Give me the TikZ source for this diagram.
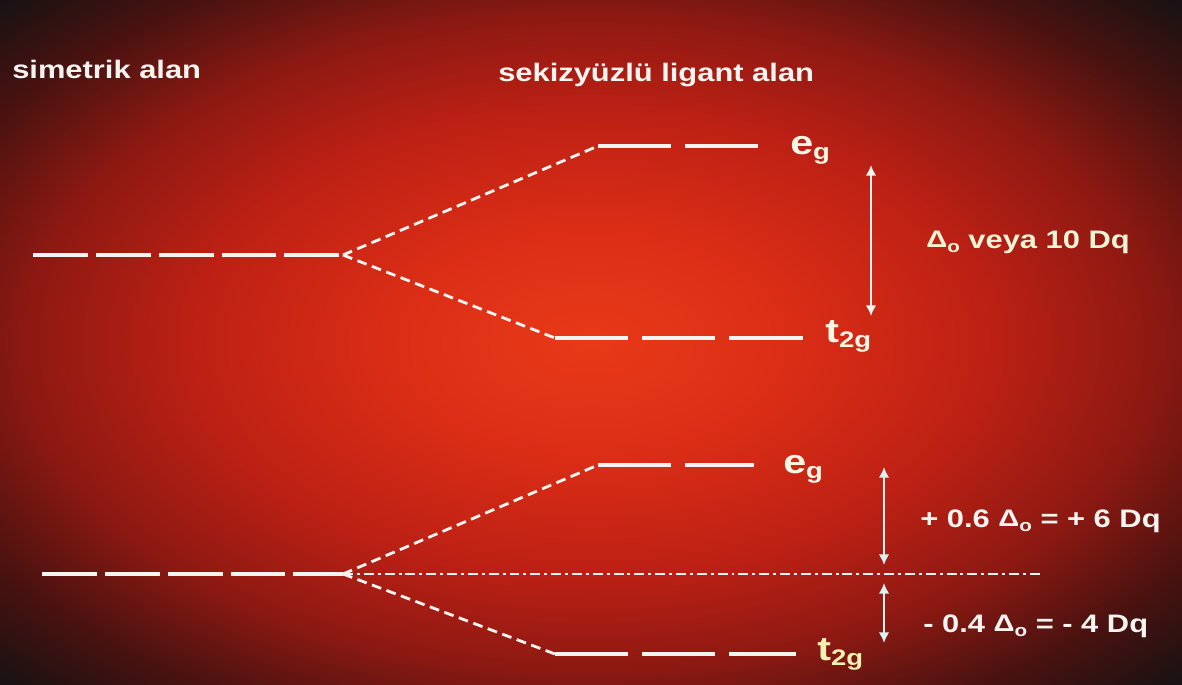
\documentclass[tikz,border=0pt]{standalone}
\usepackage{fontspec}
\usepackage{graphicx}
\setmainfont{Liberation Sans}[FakeStretch=1.22]
\usetikzlibrary{arrows.meta}

\definecolor{bgcore}{RGB}{232,58,24}
\definecolor{bgwarm}{RGB}{220,46,22}
\definecolor{bgred}{RGB}{188,32,20}
\definecolor{bgdeep}{RGB}{140,25,18}
\definecolor{bgdark}{RGB}{72,18,16}
\definecolor{bgedge}{RGB}{26,18,18}
\definecolor{chalk}{RGB}{246,244,240}
\definecolor{termcol}{RGB}{252,246,228}
\definecolor{dqtint}{RGB}{236,244,212}
\definecolor{lowtint}{RGB}{244,240,180}
\definecolor{icecol}{RGB}{218,242,242}

\pgfdeclareradialshading{slideglow}{\pgfpoint{0bp}{0bp}}{%
  color(0bp)=(bgcore); color(8bp)=(bgwarm); color(17bp)=(bgred);
  color(24bp)=(bgdeep); color(30bp)=(bgdark); color(35bp)=(bgedge);
  color(50bp)=(bgedge)}

\tikzset{
  lvlleft/.style={line width=2.2pt, chalk, dash pattern=on 39pt off 5.7pt},
  lvlright/.style={line width=2.2pt, chalk, dash pattern=on 52pt off 10pt},
  split/.style={line width=2pt, chalk, dash pattern=on 7pt off 4pt},
  bary/.style={line width=1.8pt, chalk, dash pattern=on 7.1pt off 2.8pt on 2.1pt off 2.8pt},
  gap/.style={line width=1.8pt, {Latex[length=7.5pt,width=7.5pt]}-{Latex[length=7.5pt,width=7.5pt]}},
  lbl/.style={font=\bfseries\fontsize{18}{20}\selectfont, text=chalk, inner sep=0pt, anchor=base west},
  term/.style={font=\bfseries\fontsize{24}{26}\selectfont, text=termcol, inner sep=0pt, anchor=base west},
}

\newcommand{\lvlname}[2]{#1\raisebox{-4.2pt}{\fontsize{16}{16}\selectfont #2}}
\newcommand{\delo}{\raisebox{0.3pt}{\fontsize{17}{17}\selectfont Δ}\raisebox{-3.5pt}{\fontsize{12}{12}\selectfont o}}

\begin{document}
\begin{tikzpicture}[x=0.025cm,y=-0.025cm]
  \useasboundingbox (0,0) rectangle (1182,684);
  \shade[shading=slideglow] (0,0) rectangle (1182,684);

  \node[lbl] (sym) at (12,78) {simetrik alan};
  \node[lbl] (oct) at (498,81) {sekizyüzlü ligant alan};

  % upper splitting
  \coordinate (freeA) at (33,255);
  \coordinate (splitA) at (343,255);
  \coordinate (egAl) at (598,146);
  \coordinate (egAr) at (763,146);
  \coordinate (tgAl) at (555,338);
  \coordinate (tgAr) at (803,338);
  \draw[lvlleft] (freeA) -- (splitA);
  \draw[split] (splitA) -- (egAl);
  \draw[split] (splitA) -- (tgAl);
  \draw[lvlright] (egAl) -- (egAr);
  \draw[lvlright] (tgAl) -- (tgAr);
  \node[term] (egA) at (790,154) {\lvlname{e}{g}};
  \node[term] (tgA) at (825,342) {\lvlname{t}{2g}};
  \coordinate (dTop) at (871,165);
  \coordinate (dBot) at (871,316);
  \draw[gap,chalk] (dTop) -- (dBot);
  \node[lbl,text=dqtint] (dq) at (926,248) {\delo{} veya 10 Dq};

  % lower splitting
  \coordinate (freeB) at (42,574);
  \coordinate (splitB) at (343,574);
  \coordinate (egBl) at (598,465);
  \coordinate (egBr) at (754,465);
  \coordinate (tgBl) at (555,654);
  \coordinate (tgBr) at (796,654);
  \coordinate (baryEnd) at (1043,574);
  \draw[lvlleft] (freeB) -- (splitB);
  \draw[split] (splitB) -- (egBl);
  \draw[split] (splitB) -- (tgBl);
  \draw[bary] (splitB) -- (baryEnd);
  \draw[lvlright] (egBl) -- (egBr);
  \draw[lvlright] (tgBl) -- (tgBr);
  \node[term] (egB) at (783,473) {\lvlname{e}{g}};
  \node[term,text=lowtint] (tgB) at (817,660) {\lvlname{t}{2g}};
  \coordinate (upTop) at (884,467);
  \coordinate (upBot) at (884,565);
  \coordinate (dnTop) at (884,583);
  \coordinate (dnBot) at (884,643);
  \draw[gap,icecol] (upTop) -- (upBot);
  \draw[gap,icecol] (dnTop) -- (dnBot);
  \node[lbl] (plus) at (920,527) {+ 0.6 \delo{} = + 6 Dq};
  \node[lbl] (minus) at (923,632) {- 0.4 \delo{} = - 4 Dq};
\end{tikzpicture}
\end{document}
